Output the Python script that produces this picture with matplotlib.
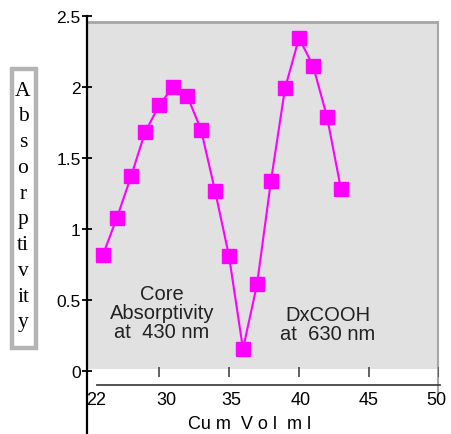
import matplotlib
matplotlib.use('Agg')
import matplotlib.pyplot as plt
from matplotlib.patches import Rectangle
from matplotlib.transforms import ScaledTranslation

# Cumulative volume (ml) and absorptivity
cum_vol = [26, 27, 28, 29, 30, 31, 32, 33, 34, 35, 36, 37, 38, 39, 40, 41, 42, 43]
absorptivity = [0.82, 1.08, 1.37, 1.68, 1.87, 2.0, 1.94, 1.70, 1.27, 0.81,
                0.155, 0.61, 1.34, 1.99, 2.345, 2.15, 1.79, 1.28]

x_ticks = [25, 30, 35, 40, 45, 50]
x_tick_labels = ['22', '30', '35', '40', '45', '50']
y_ticks = [0, 0.5, 1, 1.5, 2, 2.5]
y_tick_labels = ['0', '0.5', '1', '1.5', '2', '2.5']

plt.rcParams['font.family'] = ['Liberation Sans', 'DejaVu Sans']

fig = plt.figure(figsize=(4.51, 4.35), dpi=100)
ax = fig.add_axes([87 / 451, 49 / 435, 352 / 451, 369 / 435])
ax.set_xlim(24.857, 50)
ax.set_ylim(-0.0986, 2.5)
ax.patch.set_alpha(0)

# grey plotting panel with a thin border on top and right
ax.add_patch(Rectangle((24.857, 0.014), 49.93 - 24.857, 2.458 - 0.014,
                       facecolor='#e1e1e1', edgecolor='none', zorder=0))
ax.plot([24.857, 49.93], [2.458, 2.458], color='#a6a6a6', lw=2, zorder=1)
ax.plot([49.93, 49.93], [2.458, -0.17], color='#a6a6a6', lw=1.5, zorder=1,
        clip_on=False)

ax.plot(cum_vol, absorptivity, color='#ff00ff', lw=1.5, marker='s',
        markersize=9.5, zorder=3)

# axes lines
for side in ['top', 'right']:
    ax.spines[side].set_visible(False)
ax.spines['left'].set_linewidth(1.6)
ax.spines['left'].set_bounds(-0.45, 2.5)
ax.spines['bottom'].set_color('#444444')
ax.spines['bottom'].set_linewidth(1.3)
ax.spines['bottom'].set_bounds(25.57, 50.07)

ax.set_yticks(y_ticks)
ax.set_yticklabels(y_tick_labels, fontsize=12.5)
ax.tick_params(axis='y', direction='inout', length=7, width=1.3, pad=1)

ax.set_xticks(x_ticks)
ax.set_xticklabels(x_tick_labels, fontsize=13)
ax.tick_params(axis='x', length=0, pad=4)
# the original labels sit slightly right of their ticks
label_shift_px = [7, 7, 2, 2, 0, -3]
for lab, dx in zip(ax.get_xticklabels(), label_shift_px):
    lab.set_transform(lab.get_transform() + ScaledTranslation(dx / 100, 0, fig.dpi_scale_trans))
ax.vlines(x_ticks[1:], -0.045, 0.03, color='#555555', lw=1.3, zorder=2)

ax.set_xlabel('Cu m  V o l  m l', fontsize=13)
ax.xaxis.set_label_coords(0.463, -0.08)

ax.text(30.2, 0.415, 'Core\nAbsorptivity\nat  430 nm', ha='center', va='center',
        multialignment='center', fontsize=14.5, linespacing=1.0, color='#222222')
ax.text(42.07, 0.33, 'DxCOOH\nat  630 nm', ha='center', va='center',
        multialignment='center', fontsize=14.5, linespacing=1.0, color='#222222')

# boxed, vertically stacked y label
fig.patches.append(Rectangle((11.5 / 451, 1 - 348.5 / 435), 24 / 451, 279 / 435,
                             transform=fig.transFigure, facecolor='white',
                             edgecolor='#b4b4b4', linewidth=3.2))
fig.text(23 / 451, 1 - 207 / 435, 'A\nb\ns\no\nr\np\nti\nv\nit\ny',
         ha='center', va='center', fontsize=15.5, family='Liberation Serif',
         linespacing=1.48)

fig.savefig('out.png', dpi=100)
